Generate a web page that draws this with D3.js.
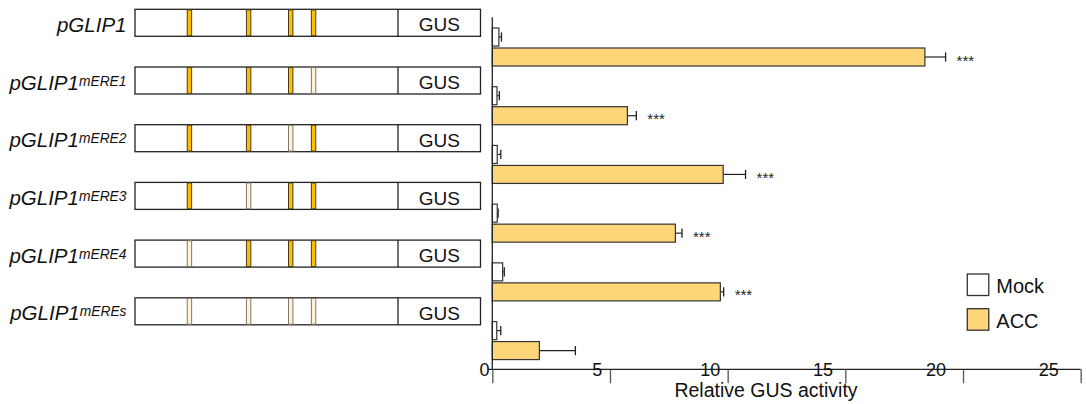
<!DOCTYPE html>
<html>
<head>
<meta charset="utf-8">
<script src="https://cdn.jsdelivr.net/npm/d3@7"></script>
<style>
  body { margin: 0; background: #fff; }
  svg { display: block; font-family: "Liberation Sans", Arial, sans-serif; }
</style>
</head>
<body>
<div id="chart"></div>
<script>
// constructs, top to bottom
const constructs = ["pGLIP1", "pGLIP1mERE1", "pGLIP1mERE2", "pGLIP1mERE3", "pGLIP1mERE4", "pGLIP1mEREs"];
const superscripts = ["", "mERE1", "mERE2", "mERE3", "mERE4", "mEREs"];

// ERE element positions along the promoter (relative units 0-100)
const erePositions = [20.7, 43.2, 59.2, 67.9];
// 1 = intact, 0 = mutated
const ereIntact = [
  [1, 1, 1, 1],
  [1, 1, 1, 0],
  [1, 1, 0, 1],
  [1, 0, 1, 1],
  [0, 1, 1, 1],
  [0, 0, 0, 0]
];

const series = ["Mock", "ACC"];
const mockValues = [0.28, 0.20, 0.21, 0.21, 0.44, 0.19];
const mockErrors = [0.11, 0.10, 0.15, 0.04, 0.07, 0.17];
const accValues = [18.38, 5.74, 9.81, 7.78, 9.69, 2.00];
const accErrors = [0.88, 0.38, 0.95, 0.28, 0.14, 1.53];
const stars = ["***", "***", "***", "***", "***", ""];

const xTicks = [0, 5, 10, 15, 20, 25];

const width = 1086;
const height = 404;

const colorMock = "#ffffff";
const colorAcc = "#ffd57a";
const colorEre = "#ffbf00";
const colorEreMut = "#fff2d8";

const svg = d3.select("#chart").append("svg")
  .attr("width", width)
  .attr("height", height);

svg.append("rect").attr("width", width).attr("height", height).attr("fill", "#fff");

// ---------- construct diagrams ----------
const row = d3.scaleBand()
  .domain(constructs)
  .range([9.3, 9.3 + 6 * 57.7]);

const boxH = 27;
const promoter = d3.scaleLinear().domain([0, 100]).range([135, 398]);
const gusEnd = 480.5;

const rows = svg.append("g").selectAll("g")
  .data(constructs)
  .join("g")
  .attr("transform", (d) => "translate(0," + row(d) + ")");

rows.append("rect")
  .attr("x", promoter(0))
  .attr("y", 0)
  .attr("width", gusEnd - promoter(0))
  .attr("height", boxH)
  .attr("fill", "#fff")
  .attr("stroke", "#222")
  .attr("stroke-width", 1.3);

rows.append("line")
  .attr("x1", promoter(100))
  .attr("x2", promoter(100))
  .attr("y1", 0)
  .attr("y2", boxH)
  .attr("stroke", "#222")
  .attr("stroke-width", 1.3);

rows.append("text")
  .attr("x", (promoter(100) + gusEnd) / 2)
  .attr("y", boxH / 2 + 8.7)
  .attr("text-anchor", "middle")
  .style("font-size", "19px")
  .attr("fill", "#111")
  .text("GUS");

rows.each(function (d, i) {
  const g = d3.select(this);
  erePositions.forEach((p, j) => {
    const intact = ereIntact[i][j] === 1;
    g.append("rect")
      .attr("x", promoter(p) - 2.2)
      .attr("y", 0.6)
      .attr("width", 4.4)
      .attr("height", boxH - 1.2)
      .attr("fill", intact ? colorEre : colorEreMut)
      .attr("stroke", intact ? "#4a3c18" : "#7f776a")
      .attr("stroke-width", 1);
  });

  const label = g.append("text")
    .attr("x", 126.5)
    .attr("y", boxH / 2 + 9)
    .attr("text-anchor", "end")
    .style("font-style", "italic")
    .style("font-size", "20.5px")
    .attr("fill", "#111");
  label.append("tspan").text("pGLIP1");
  if (superscripts[i]) {
    label.append("tspan")
      .attr("dy", -4)
      .style("font-size", "13.8px")
      .text(superscripts[i]);
  }
});

// ---------- bar chart ----------
const x = d3.scaleLinear().domain([0, 25]).range([492.3, 1080.7]);
const xLabel = d3.scaleLinear().domain([0, 25]).range([484, 1048.3]);
const axisY = 369.3;

const y = d3.scaleBand()
  .domain(constructs)
  .range([17, axisY]);

const ySub = d3.scaleBand()
  .domain(series)
  .range([11, 49])
  .paddingInner(0.1);

const barData = [];
constructs.forEach((c, i) => {
  barData.push({ c: c, s: "Mock", v: mockValues[i], e: mockErrors[i], star: "" });
  barData.push({ c: c, s: "ACC", v: accValues[i], e: accErrors[i], star: stars[i] });
});

const bars = svg.append("g").selectAll("g")
  .data(barData)
  .join("g")
  .attr("transform", (d) => "translate(0," + (y(d.c) + ySub(d.s)) + ")");

const bh = ySub.bandwidth();

// error bars
bars.append("line")
  .attr("x1", (d) => x(d.v))
  .attr("x2", (d) => x(d.v + d.e))
  .attr("y1", bh / 2)
  .attr("y2", bh / 2)
  .attr("stroke", "#222")
  .attr("stroke-width", 1.2);

bars.append("line")
  .attr("x1", (d) => x(d.v + d.e))
  .attr("x2", (d) => x(d.v + d.e))
  .attr("y1", bh / 2 - 4.6)
  .attr("y2", bh / 2 + 4.6)
  .attr("stroke", "#222")
  .attr("stroke-width", 1.3);

bars.append("rect")
  .attr("x", x(0))
  .attr("y", 0)
  .attr("width", (d) => x(d.v) - x(0))
  .attr("height", bh)
  .attr("fill", (d) => (d.s === "ACC" ? colorAcc : colorMock))
  .attr("stroke", "#333")
  .attr("stroke-width", 1.2);

bars.append("text")
  .attr("x", (d) => x(d.v + d.e) + 11)
  .attr("y", bh / 2 + 8.5)
  .style("font-size", "15px")
  .attr("fill", "#222")
  .text((d) => d.star);

// y axis line
svg.append("line")
  .attr("x1", x(0))
  .attr("x2", x(0))
  .attr("y1", 17.3)
  .attr("y2", axisY)
  .attr("stroke", "#222")
  .attr("stroke-width", 1.3);

// x axis
const xAxis = svg.append("g")
  .attr("transform", "translate(0," + axisY + ")")
  .call(d3.axisBottom(x).tickValues(xTicks).tickSize(14).tickSizeOuter(0));

xAxis.select(".domain")
  .attr("d", "M" + (x(0) - 4) + ",0H" + x(25))
  .attr("stroke", "#222")
  .attr("stroke-width", 1.3);

xAxis.selectAll(".tick line")
  .attr("stroke", "#555")
  .attr("stroke-width", 1.3);

xAxis.selectAll(".tick text")
  .attr("x", (d) => xLabel(d) - x(d))
  .attr("y", 0)
  .attr("dy", "0.35em")
  .style("font-size", "18px")
  .style("font-family", "'Liberation Sans', Arial, sans-serif")
  .attr("fill", "#111");

svg.append("text")
  .attr("x", 766)
  .attr("y", 397)
  .attr("text-anchor", "middle")
  .style("font-size", "19.5px")
  .attr("fill", "#111")
  .text("Relative GUS activity");

// legend
const legend = svg.append("g").selectAll("g")
  .data(series)
  .join("g")
  .attr("transform", (d, i) => "translate(967.3," + (274 + i * 34.7) + ")");

legend.append("rect")
  .attr("width", 21.5)
  .attr("height", 21.5)
  .attr("fill", (d) => (d === "ACC" ? colorAcc : colorMock))
  .attr("stroke", "#333")
  .attr("stroke-width", 1.3);

legend.append("text")
  .attr("x", 29)
  .attr("y", 19.3)
  .style("font-size", "20px")
  .attr("fill", "#111")
  .text((d) => d);
</script>
</body>
</html>
